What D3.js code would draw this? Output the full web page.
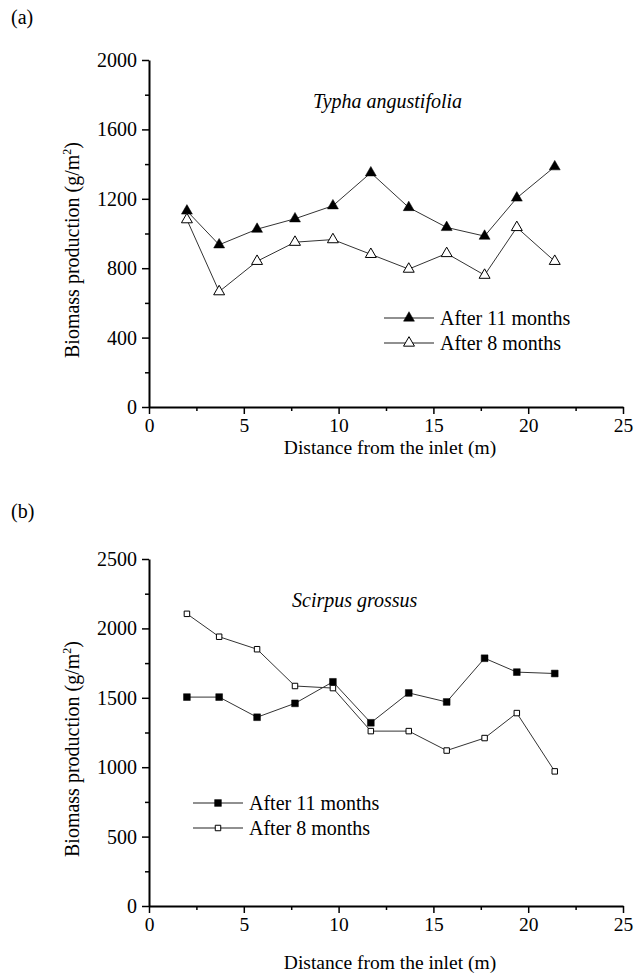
<html>
<head>
<script src="https://d3js.org/d3.v7.min.js"></script>
<style>
  body { margin: 0; background: #fff; }
  svg text { font-family: "Liberation Serif", "Times New Roman", Times, serif !important; fill: #000; }
  .domain { stroke: #000; stroke-width: 2px; }
  .tick line { stroke: #000; stroke-width: 1.5px; }
</style>
</head>
<body>
<svg width="635" height="976" id="chart" font-family="Liberation Serif"></svg>
<script>
  // distance from inlet (m)
  var distance = [2, 3.7, 5.7, 7.7, 9.7, 11.7, 13.7, 15.7, 17.7, 19.4, 21.4];
  // Typha angustifolia biomass (g/m2)
  var typha11 = [1130, 935, 1025, 1085, 1160, 1350, 1150, 1035, 985, 1205, 1385];
  var typha8 = [1080, 665, 840, 950, 965, 880, 795, 885, 760, 1035, 840];
  // Scirpus grossus biomass (g/m2)
  var scirpus11 = [1505, 1505, 1360, 1460, 1615, 1320, 1535, 1470, 1785, 1685, 1675];
  var scirpus8 = [2105, 1940, 1850, 1585, 1570, 1260, 1260, 1120, 1210, 1390, 970];
  var seriesNames = ["After 11 months", "After 8 months"];
  var xTicks = [0, 5, 10, 15, 20, 25];
  var yTicksA = [0, 400, 800, 1200, 1600, 2000];
  var yTicksB = [0, 500, 1000, 1500, 2000, 2500];

  var FONT = "Liberation Serif";
  var svg = d3.select("#chart");
  var x = d3.scaleLinear().domain([0, 25]).range([149, 623]);

  var tri = d3.symbol().type(d3.symbolTriangle).size(52);
  var sqFill = d3.symbol().type(d3.symbolSquare).size(46);
  var sqOpen = d3.symbol().type(d3.symbolSquare).size(30);

  function panel(o) {
    var y = d3.scaleLinear().domain([0, o.ymax]).range([o.bottom, o.bottom - 347]);
    var g = svg.append("g");
    var step = o.yTicks[1] - o.yTicks[0];
    var minorY = d3.range(step / 2, o.ymax, step);

    // minor ticks first, then major axis
    g.append("g").attr("transform", "translate(0," + o.bottom + ")")
      .call(d3.axisBottom(x).tickValues(d3.range(2.5, 25, 5)).tickSize(4).tickFormat(""))
      .select(".domain").remove();
    g.append("g").attr("transform", "translate(149,0)")
      .call(d3.axisLeft(y).tickValues(minorY).tickSize(4).tickFormat(""))
      .select(".domain").remove();

    var xa = g.append("g").attr("transform", "translate(0," + o.bottom + ")")
      .call(d3.axisBottom(x).tickValues(xTicks).tickSize(7).tickSizeOuter(0)
        .tickPadding(4).tickFormat(d3.format("d")));
    xa.selectAll("text").attr("font-size", "19.5px");
    var ya = g.append("g").attr("transform", "translate(149,0)")
      .call(d3.axisLeft(y).tickValues(o.yTicks).tickSize(7).tickSizeOuter(0)
        .tickPadding(5).tickFormat(d3.format("d")));
    ya.selectAll("text").attr("font-size", "20px");
    g.selectAll("g").attr("font-family", FONT);

    // titles
    g.append("text").attr("x", 390).attr("y", o.xTitleY).attr("text-anchor", "middle")
      .attr("font-size", "19.5px").text("Distance from the inlet (m)");
    var yt = g.append("text").attr("transform", "translate(79," + (o.bottom - 157) + ") rotate(-90)")
      .attr("text-anchor", "middle").attr("font-size", "20px");
    yt.append("tspan").text("Biomass production (g/m");
    yt.append("tspan").attr("font-size", "12px").attr("dy", "-8").text("2");
    yt.append("tspan").attr("dy", "8").text(")");

    g.append("text").attr("x", 11).attr("y", o.tagY).attr("font-size", "20px").text(o.tag);
    g.append("text").attr("x", o.nameX).attr("y", o.bottom - 299).attr("font-size", "20px")
      .attr("font-style", "italic").text(o.name);

    var line = d3.line().x(function(d, i) { return x(distance[i]); }).y(function(d) { return y(d); });

    o.series.forEach(function(s) {
      g.append("path").datum(s.values).attr("d", line)
        .attr("fill", "none").attr("stroke", "#333").attr("stroke-width", 1);
    });
    o.series.forEach(function(s) {
      g.selectAll(null).data(s.values).enter().append("path")
        .attr("transform", function(d, i) { return "translate(" + x(distance[i]) + "," + y(d) + ")"; })
        .attr("d", s.symbol)
        .attr("fill", s.filled ? "#000" : "#fff")
        .attr("stroke", "#000").attr("stroke-width", s.filled ? 0.5 : 1);
    });

    // legend
    var lg = g.append("g");
    o.series.forEach(function(s, i) {
      var ly = o.legendY + i * 25;
      lg.append("line").attr("x1", o.legendX).attr("x2", o.legendX + 50)
        .attr("y1", ly).attr("y2", ly).attr("stroke", "#222").attr("stroke-width", 1.2);
      lg.append("path").attr("transform", "translate(" + (o.legendX + 25) + "," + ly + ")")
        .attr("d", s.symbol).attr("fill", s.filled ? "#000" : "#fff")
        .attr("stroke", "#000").attr("stroke-width", s.filled ? 0.5 : 1);
      lg.append("text").attr("x", o.legendX + 56).attr("y", ly + 7)
        .attr("font-size", "20px").text(seriesNames[i]);
    });
  }

  panel({
    bottom: 407, ymax: 2000, yTicks: yTicksA, xTitleY: 454, tag: "(a)", tagY: 24,
    name: "Typha angustifolia", nameX: 313, legendX: 384, legendY: 318,
    series: [
      { values: typha11, symbol: tri(), filled: true },
      { values: typha8, symbol: tri(), filled: false }
    ]
  });

  panel({
    bottom: 906, ymax: 2500, yTicks: yTicksB, xTitleY: 969, tag: "(b)", tagY: 518,
    name: "Scirpus grossus", nameX: 292, legendX: 193, legendY: 803,
    series: [
      { values: scirpus11, symbol: sqFill(), filled: true },
      { values: scirpus8, symbol: sqOpen(), filled: false }
    ]
  });
</script>
</body>
</html>
